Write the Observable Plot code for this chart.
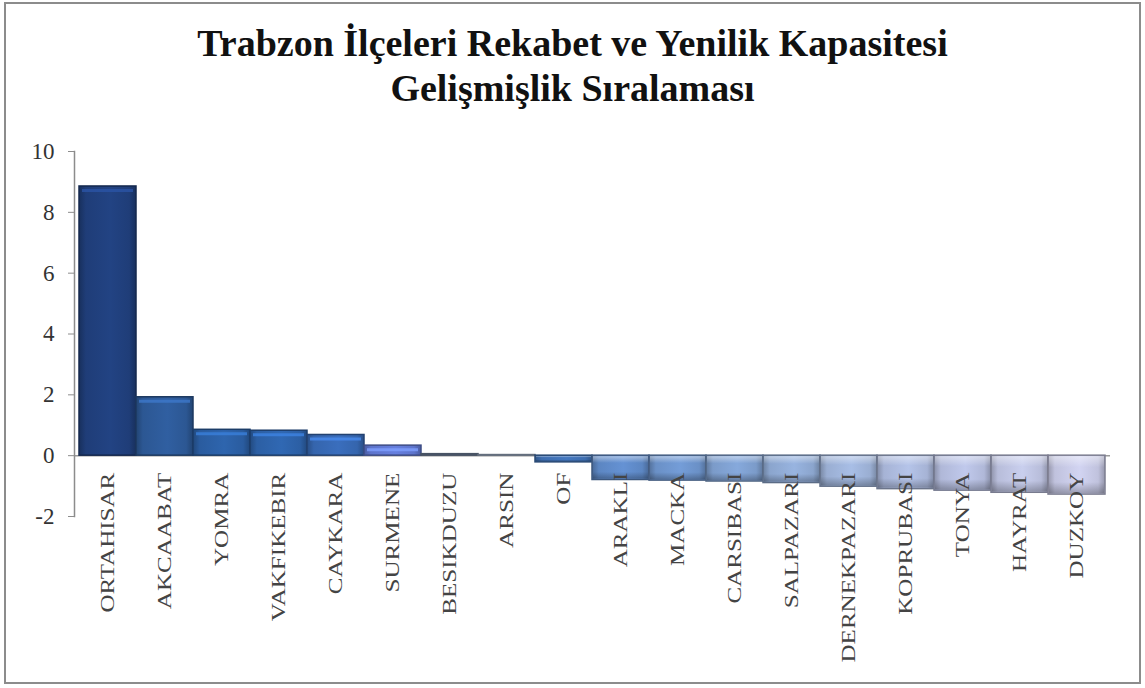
<!DOCTYPE html>
<html>
<head>
<meta charset="utf-8">
<script src="https://cdn.jsdelivr.net/npm/d3@7"></script>
<script src="https://cdn.jsdelivr.net/npm/@observablehq/plot@0.6"></script>
<style>
  html, body { margin: 0; padding: 0; background: #fff; }
  body { width: 1145px; height: 688px; overflow: hidden; position: relative; font-family: "Liberation Serif", "Times New Roman", serif; }
  #frame { position: absolute; left: 4px; top: 2px; width: 1137px; height: 682px; box-sizing: border-box; border: 2px solid #8c8c8c; pointer-events: none; z-index: 2; }
  #title { position: absolute; left: 0; top: 21px; width: 1145px; text-align: center; font-weight: bold; font-size: 38px; line-height: 45px; color: #111; }
  #chart { position: absolute; left: 0; top: 120px; }
</style>
</head>
<body>
<div id="title">Trabzon İlçeleri Rekabet ve Yenilik Kapasitesi<br>Gelişmişlik Sıralaması</div>
<div id="chart"></div>
<div id="frame"></div>
<script>
// ---- data ----
const districts = ["ORTAHISAR", "AKCAABAT", "YOMRA", "VAKFIKEBIR", "CAYKARA", "SURMENE", "BESIKDUZU", "ARSIN", "OF",
  "ARAKLI", "MACKA", "CARSIBASI", "SALPAZARI", "DERNEKPAZARI", "KOPRUBASI", "TONYA", "HAYRAT", "DUZKOY"];
const scores = [8.85, 1.92, 0.85, 0.82, 0.68, 0.33, 0.05, 0.02, -0.22,
  -0.8, -0.82, -0.85, -0.9, -1.02, -1.1, -1.15, -1.22, -1.28];
const yTicks = [-2, 0, 2, 4, 6, 8, 10];

// ---- style ----
const barColors = ["#1f3d78", "#2c5793", "#2a5c9f", "#2c5fa4", "#3565ad", "#5d74cc", "#6f7f99", "#9aa8c0", "#3e6eb0",
  "#5c86c2", "#6a90c6", "#7b9bc9", "#8ba5cd", "#9aaed2", "#a6b3d5", "#b0b8d8", "#b8bdda", "#c0c2dd"];

const rows = districts.map((name, i) => ({name, value: scores[i], idx: i}));
const pos = rows.filter(d => d.value > 0.1);
const neg = rows.filter(d => d.value < -0.1);

const plot = Plot.plot({
  width: 1145,
  height: 560,
  marginLeft: 74,
  marginRight: 35,
  marginTop: 31,
  marginBottom: 164,
  style: {fontFamily: "Liberation Serif, serif", color: "#333", background: "transparent"},
  x: {domain: districts, padding: 0, axis: null},
  y: {domain: [-2, 10], axis: null},
  marks: [
    Plot.ruleY([0], {stroke: "#9a9a9a", strokeWidth: 1.5}),
    Plot.barY(rows, {
      x: "name", y: "value",
      fill: {value: d => `url(#grad${d.idx})`, scale: null},
      stroke: {value: d => d3.color(barColors[d.idx]).darker(1.2).formatHex(), scale: null},
      strokeWidth: 1.5
    }),
    Plot.barY(neg, {
      x: "name", y: "value",
      fill: {value: () => "url(#shade)", scale: null},
      inset: 1
    }),
    Plot.tickY(pos, {
      x: "name", y: "value",
      stroke: {value: d => d3.color(barColors[d.idx]).brighter(0.9).formatHex(), scale: null},
      strokeWidth: 3, strokeOpacity: 0.8, dy: 4, inset: 3
    }),
    Plot.frame({anchor: "left", stroke: "#8c8c8c", strokeWidth: 1.5}),
    Plot.axisY({ticks: yTicks, label: null, tickSize: 6, tickFormat: () => "", stroke: "#8c8c8c"}),
    Plot.text(yTicks, {
      y: d => d, text: d => String(d), frameAnchor: "left",
      textAnchor: "end", dx: -20, fontSize: 23, fill: "#333",
      fontFamily: "Liberation Serif, serif"
    }),
    Plot.text(rows, {
      x: "name", y: () => 0, text: "name",
      rotate: -90, textAnchor: "end", lineAnchor: "middle",
      dy: 17, fontSize: 19, fill: "#444",
      fontFamily: "Liberation Serif, serif",
      className: "xlab"
    })
  ]
});

// gradients for the bevelled bar look
const svg = d3.select(plot);
const defs = svg.insert("defs", ":first-child");
barColors.forEach((c, i) => {
  const base = d3.color(c);
  const g = defs.append("linearGradient").attr("id", `grad${i}`).attr("x1", 0).attr("x2", 1).attr("y1", 0).attr("y2", 0);
  g.append("stop").attr("offset", "0%").attr("stop-color", base.darker(0.7).formatHex());
  g.append("stop").attr("offset", "12%").attr("stop-color", base.formatHex());
  g.append("stop").attr("offset", "55%").attr("stop-color", base.brighter(0.25).formatHex());
  g.append("stop").attr("offset", "88%").attr("stop-color", base.formatHex());
  g.append("stop").attr("offset", "100%").attr("stop-color", base.darker(0.7).formatHex());
});
const sh = defs.append("linearGradient").attr("id", "shade").attr("x1", 0).attr("x2", 0).attr("y1", 0).attr("y2", 1);
sh.append("stop").attr("offset", "0%").attr("stop-color", "#fff").attr("stop-opacity", 0.45);
sh.append("stop").attr("offset", "30%").attr("stop-color", "#fff").attr("stop-opacity", 0);
sh.append("stop").attr("offset", "70%").attr("stop-color", "#000").attr("stop-opacity", 0);
sh.append("stop").attr("offset", "100%").attr("stop-color", "#000").attr("stop-opacity", 0.25);

// stretch the category labels along their reading direction, as in the original
svg.selectAll("g.xlab text").each(function () {
  const t = this.getAttribute("transform") || "";
  this.setAttribute("transform", t + " scale(1.32,1)");
});

document.getElementById("chart").appendChild(plot);
</script>
</body>
</html>
